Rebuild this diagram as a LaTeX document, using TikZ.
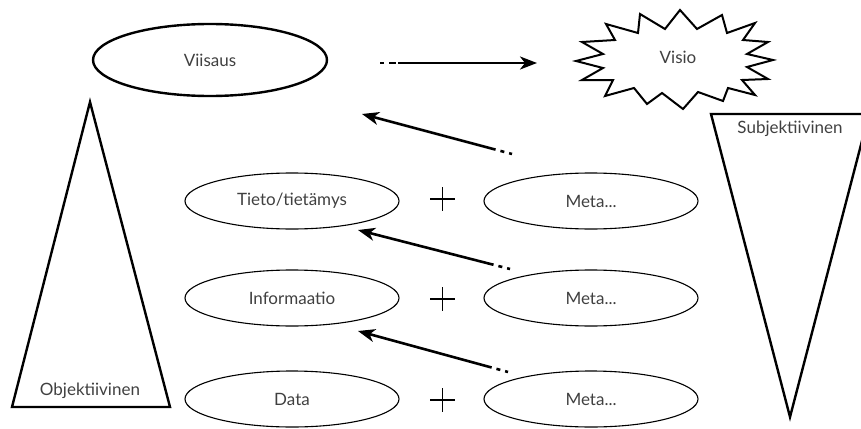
\documentclass[tikz,border=0pt]{standalone}
\usepackage{fontspec}
\setmainfont{Lato}
\usetikzlibrary{arrows.meta,shapes.geometric}
\begin{document}
\begin{tikzpicture}[x=1pt,y=-1pt,
  lbl/.style={font=\fontsize{17}{20}\selectfont, text=black!75, inner sep=0pt},
  bigell/.style={draw, ellipse, line width=2.4pt, minimum width=234pt, minimum height=72pt, inner sep=0pt},
  smallell/.style={draw, ellipse, line width=1.1pt, minimum width=214pt, minimum height=56pt, inner sep=0pt},
  cone/.style={line width=2.4pt, line join=miter},
  arr/.style={line width=2.6pt, -{Stealth[length=17pt,width=13pt,inset=5pt]}},
  tailarr/.style={arr, dash pattern=on 3pt off 5pt on 4pt off 5pt on 400pt},
  headarr/.style={arr, dash pattern=on 4pt off 5pt on 7pt off 2pt on 400pt},
  plus/.style={line width=1.2pt}]
\useasboundingbox (0,0) rectangle (861,428);
\clip (0,0) rectangle (861,428);

% pyramid and inverted pyramid
\draw[cone] (12,407) -- (170,407) -- (90,102) -- cycle;
\node[lbl] (obj) at (90,391) {Objektiivinen};
\draw[cone] (711,114) -- (869,114) -- (790,417) -- cycle;
\node[lbl] (subj) at (790,129) {Subjektiivinen};

% wisdom and vision
\node[bigell, lbl] (wis) at (210,60) {Viisaus};
\draw[line width=2pt, line join=miter]
  (680,10) -- (697,29) -- (722,15) -- (727,33) -- (755,23) -- (743,40)
  -- (768,42) -- (747,54) -- (773,60) -- (747,67) -- (768,79) -- (742,80)
  -- (755,95) -- (728,88) -- (723,101) -- (698,92) -- (683,109) -- (662,93)
  -- (647,104) -- (634,88) -- (605,96) -- (613,80) -- (582,80) -- (603,68)
  -- (576,61) -- (603,54) -- (582,42) -- (615,40) -- (606,24) -- (638,33)
  -- (640,14) -- (665,29) -- cycle;
\node[lbl] (vis) at (678,57) {Visio};
\coordinate (visw) at (578,63);
\draw[headarr, shorten <=52pt, shorten >=41pt] ([yshift=-3pt]wis.east) -- (visw);

% levels
\node[smallell, lbl] (tie) at (292,201) {Tieto/tietämys};
\node[smallell, lbl] (inf) at (292,298) {Informaatio};
\node[smallell, lbl] (dat) at (292,399) {Data};
\node[smallell, lbl] (m1) at (591,201) {Meta...};
\node[smallell, lbl] (m2) at (591,298) {Meta...};
\node[smallell, lbl] (m3) at (591,399) {Meta...};

% plus signs
\foreach \r/\y in {p1/199, p2/299, p3/400}{
  \draw[plus] (430,\y) -- (455,\y) (442.5,\y-12) -- (442.5,\y+12);
}

% feedback arrows
\coordinate (t1) at (512,154); \coordinate (h1) at (362,114);
\coordinate (t2) at (510,269); \coordinate (h2) at (358,230);
\coordinate (t3) at (508,372); \coordinate (h3) at (358,331);
\draw[tailarr] (t1) -- (h1);
\draw[tailarr] (t2) -- (h2);
\draw[tailarr] (t3) -- (h3);
\end{tikzpicture}
\end{document}
